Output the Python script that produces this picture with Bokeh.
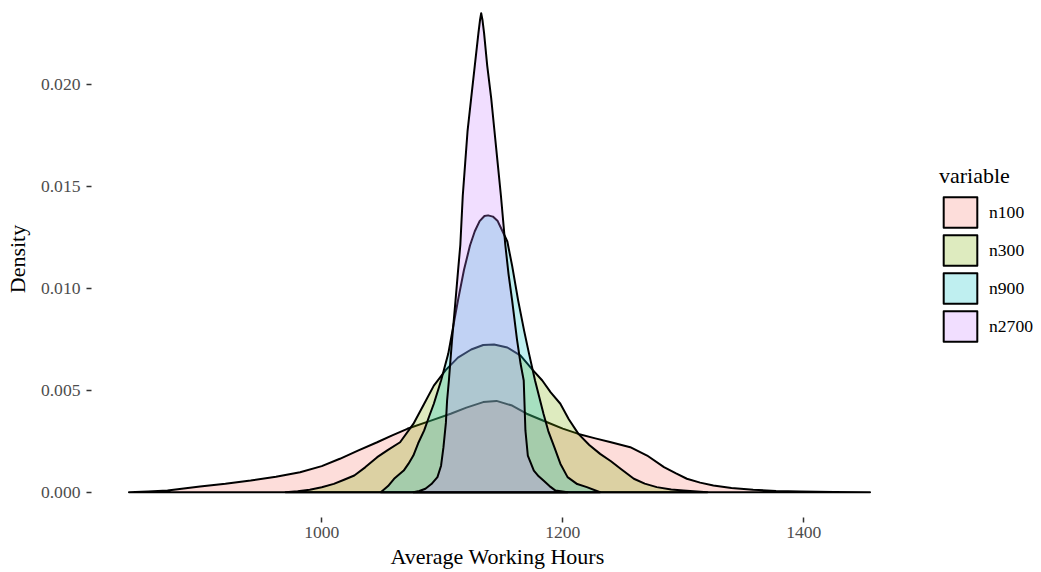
from bokeh.plotting import figure
from bokeh.models import Legend, LegendItem, FixedTicker, NumeralTickFormatter, Range1d, Title
from bokeh.embed import file_html
from bokeh.resources import INLINE

# ---- data ----
series_names = ["n100", "n300", "n900", "n2700"]
series_colors = ["#F8766D", "#7CAE00", "#00BFC4", "#C77CFF"]

n100_x = [840, 856, 872, 899, 920, 941, 962, 982, 1000, 1015, 1030, 1046, 1058, 1071, 1090, 1107,
          1120, 1134, 1145, 1158, 1170, 1187, 1200, 1213, 1227, 1240, 1256, 1270, 1284, 1294,
          1303, 1314, 1325, 1340, 1358, 1377, 1397, 1425, 1455]
n100_y = [0, 0.00003, 0.00008, 0.00028, 0.00041, 0.00057, 0.00076, 0.00098, 0.00128, 0.00164,
          0.00204, 0.00245, 0.00278, 0.00311, 0.0035, 0.00385, 0.00415, 0.00442, 0.00448,
          0.00425, 0.00385, 0.00343, 0.00312, 0.00286, 0.00264, 0.00245, 0.00221, 0.0018,
          0.00123, 0.00092, 0.00066, 0.00047, 0.00033, 0.00021, 0.00012, 0.00006, 0.00003,
          0.00001, 0]

n300_x = [970, 980, 990, 1000, 1010, 1018, 1027, 1036, 1046, 1055, 1065, 1076, 1085, 1093, 1103,
          1113, 1124, 1134, 1143, 1154, 1165, 1175, 1183, 1190, 1198, 1205, 1213, 1222, 1231,
          1240, 1248, 1259, 1268, 1278, 1290, 1300, 1320]
n300_y = [0, 0.00005, 0.00012, 0.00024, 0.00041, 0.0006, 0.00082, 0.00122, 0.00172, 0.00208,
          0.00245, 0.00335, 0.00434, 0.00523, 0.0060, 0.0066, 0.0070, 0.00722, 0.00725, 0.0071,
          0.0067, 0.0060, 0.00548, 0.0049, 0.00434, 0.00358, 0.00286, 0.00232, 0.00188,
          0.00152, 0.00115, 0.00066, 0.00042, 0.00025, 0.00013, 0.00008, 0]

n900_x = [1049, 1055, 1060, 1068, 1072, 1076, 1080, 1085, 1089, 1093, 1099, 1105, 1109, 1113,
          1118, 1123, 1127, 1131, 1135, 1138, 1142, 1146, 1150, 1154, 1158, 1163, 1168, 1172,
          1177, 1184, 1188, 1193, 1198, 1204, 1212, 1220, 1231]
n900_y = [0, 0.0003, 0.00066, 0.00106, 0.0014, 0.0018, 0.0024, 0.00303, 0.0037, 0.00434,
          0.00548, 0.0068, 0.0081, 0.0094, 0.0109, 0.0121, 0.0128, 0.0133, 0.01355, 0.01358,
          0.01352, 0.0133, 0.0128, 0.0123, 0.0111, 0.0094, 0.0079, 0.0068, 0.00548, 0.00385,
          0.003, 0.00221, 0.0014, 0.00074, 0.0004, 0.00025, 0]

n2700_x = [1076, 1081, 1086, 1091, 1096, 1099, 1101, 1103, 1104, 1105.5, 1108, 1111, 1113,
           1115, 1117, 1119, 1121, 1124, 1127, 1130, 1131.3, 1132.3, 1133.4, 1134.7, 1137.3,
           1140.6, 1143.3, 1146, 1148.7, 1152.3, 1155, 1158, 1162, 1165, 1167.6, 1169, 1171,
           1176, 1180, 1184, 1189, 1194, 1204]
n2700_y = [0, 0.00006, 0.00017, 0.0004, 0.00074, 0.0013, 0.00221, 0.0034, 0.0045, 0.00548,
           0.0074, 0.0094, 0.0108, 0.01214, 0.01453, 0.01613, 0.01773, 0.01933, 0.02093,
           0.02252, 0.02315, 0.0235, 0.02315, 0.02252, 0.02093, 0.01933, 0.01773, 0.01613,
           0.01453, 0.01214, 0.0107, 0.0094, 0.0075, 0.0063, 0.00548, 0.00303, 0.0018,
           0.00106, 0.00078, 0.00057, 0.0003, 0.00008, 0]

x_ticks = [1000, 1200, 1400]
y_ticks = [0.0, 0.005, 0.010, 0.015, 0.020]

x_title = "Average Working Hours"
y_title = "Density"
legend_title = "variable"

FONT = "Liberation Serif"

# frame spans to the right edge (invisible: no outline, no grid) so the legend fits inside it
p = figure(width=1041, height=572, output_backend="svg", toolbar_location=None,
           x_range=Range1d(808.9, 1597.3), y_range=Range1d(-0.00124, 0.02412),
           min_border_left=91, min_border_right=0, min_border_top=0, min_border_bottom=55)
p.outline_line_color = None
p.xgrid.visible = False
p.ygrid.visible = False
p.background_fill_color = "white"
p.border_fill_color = "white"

all_x = [n100_x, n300_x, n900_x, n2700_x]
all_y = [n100_y, n300_y, n900_y, n2700_y]
items = []
for name, col, xs, ys in zip(series_names, series_colors, all_x, all_y):
    r = p.patch(xs, ys, fill_color=col, fill_alpha=0.25, line_color="black", line_width=2,
                line_join="round")
    items.append(LegendItem(label=name, renderers=[r]))

for ax in (p.xaxis[0], p.yaxis[0]):
    ax.axis_line_color = None
    ax.major_tick_in = 0
    ax.major_tick_out = 5
    ax.major_tick_line_color = "#333333"
    ax.major_tick_line_width = 1.5
    ax.minor_tick_line_color = None
    ax.major_label_text_font = FONT
    ax.major_label_text_font_size = "17.6px"
    ax.major_label_text_color = "#4D4D4D"
    ax.axis_label_text_font = FONT
    ax.axis_label_text_font_size = "22px"
    ax.axis_label_text_font_style = "normal"
    ax.axis_label_text_color = "black"

p.xaxis[0].ticker = FixedTicker(ticks=x_ticks)
p.yaxis[0].ticker = FixedTicker(ticks=y_ticks)
p.yaxis[0].formatter = NumeralTickFormatter(format="0.000")
p.yaxis[0].axis_label = y_title
p.xaxis[0].major_label_standoff = 4
p.yaxis[0].major_label_standoff = 6
p.yaxis[0].axis_label_standoff = 8

# x-axis title, centred under the data panel (not under the wide invisible frame)
xt = Title(text=x_title, align="left", offset=299, text_font=FONT, text_font_size="22px",
           text_font_style="normal", text_color="black", standoff=2)
p.add_layout(xt, "below")

legend = Legend(items=items, title=legend_title, location=(848, 172),
                glyph_width=42, glyph_height=38, spacing=0, label_standoff=8,
                padding=0, margin=0, border_line_color=None, background_fill_alpha=0,
                label_text_font=FONT, label_text_font_size="17.6px", label_text_color="black",
                title_text_font=FONT, title_text_font_size="22px", title_text_font_style="normal",
                title_text_color="black", title_standoff=4)
p.add_layout(legend)

open("out.html", "w").write(file_html(p, INLINE))
